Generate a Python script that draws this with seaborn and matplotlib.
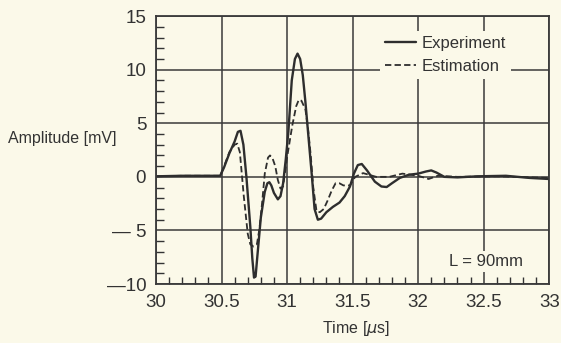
import seaborn as sns
import pandas as pd
import matplotlib.pyplot as plt
from matplotlib.ticker import MultipleLocator

# values
exp_t = [30.0, 30.2, 30.4, 30.49, 30.52, 30.56, 30.6, 30.625, 30.645, 30.667,
         30.69, 30.72, 30.735, 30.748, 30.76, 30.775, 30.8, 30.83, 30.85, 30.865,
         30.88, 30.9, 30.93, 30.95, 30.97, 30.99, 31.01, 31.036, 31.06, 31.08,
         31.1, 31.12, 31.14, 31.16, 31.19, 31.21, 31.235, 31.26, 31.3, 31.35,
         31.4, 31.44, 31.48, 31.51, 31.54, 31.57, 31.61, 31.67, 31.72, 31.76,
         31.8, 31.86, 31.93, 32.0, 32.06, 32.1, 32.14, 32.2, 32.3, 32.45, 32.67,
         32.85, 33.0]
exp_amp = [0.05, 0.1, 0.1, 0.1, 0.9, 2.2, 3.3, 4.2, 4.3, 3.0,
           0.0, -4.7, -7.6, -9.4, -9.3, -7.2, -3.8, -1.4, -0.6, -0.5,
           -0.8, -1.5, -2.1, -1.8, -0.6, 1.6, 4.2, 9.0, 11.0, 11.5,
           11.0, 9.5, 7.0, 4.2, 0.0, -3.0, -4.0, -3.9, -3.3, -2.8,
           -2.4, -1.8, -0.9, 0.3, 1.1, 1.2, 0.6, -0.45, -0.9, -0.95,
           -0.6, -0.1, 0.2, 0.3, 0.5, 0.6, 0.4, 0.0, -0.05, 0.05, 0.1,
           -0.1, -0.2]

est_t = [30.0, 30.2, 30.4, 30.49, 30.52, 30.56, 30.6, 30.62, 30.64, 30.67,
         30.70, 30.72, 30.745, 30.77, 30.79, 30.81, 30.83, 30.855, 30.87, 30.89,
         30.91, 30.93, 30.95, 30.97, 31.0, 31.04, 31.07, 31.09, 31.11, 31.14,
         31.16, 31.18, 31.20, 31.225, 31.25, 31.28, 31.31, 31.34, 31.37, 31.4,
         31.43, 31.48, 31.52, 31.58, 31.68, 31.78, 31.88, 32.0, 32.08, 32.15,
         32.3, 32.6, 33.0]
est_amp = [0.05, 0.1, 0.1, 0.1, 1.0, 2.3, 3.0, 3.1, 2.3, -1.8,
           -5.3, -6.3, -6.5, -6.3, -4.8, -2.4, 0.3, 1.8, 2.0, 1.7,
           1.0, -0.3, -1.1, -0.9, 1.8, 4.8, 6.6, 7.2, 7.1, 6.3,
           4.5, 2.1, -1.0, -3.2, -3.3, -3.0, -2.2, -1.3, -0.6, -0.6,
           -0.8, -0.8, 0.0, 0.35, 0.0, 0.0, 0.3, 0.1, -0.2, 0.1,
           0.0, 0.05, -0.1]

x_ticks = [30, 30.5, 31, 31.5, 32, 32.5, 33]
x_labels = ["30", "30.5", "31", "31.5", "32", "32.5", "33"]
y_ticks = [-10, -5, 0, 5, 10, 15]
y_labels = ["\u201410", "\u2014 5", "0", "5", "10", "15"]

bg = "#fbf9e9"
ink = "#333333"

sns.set_theme(style="white")
plt.rcParams['font.family'] = ['Liberation Sans', 'DejaVu Sans']

df_exp = pd.DataFrame({"t": exp_t, "amp": exp_amp})
df_est = pd.DataFrame({"t": est_t, "amp": est_amp})

fig = plt.figure(figsize=(5.61, 3.43), dpi=100, facecolor=bg)
ax = fig.add_axes([0.278, 0.172, 0.701, 0.781], facecolor=bg)

sns.lineplot(data=df_exp, x="t", y="amp", ax=ax, color="#2e2e2e", lw=1.7,
             sort=False, label="Experiment")
sns.lineplot(data=df_est, x="t", y="amp", ax=ax, color="#2e2e2e", lw=1.3,
             sort=False, label="Estimation", linestyle=(0, (3.5, 1.8)))

ax.set_xlim(30, 33)
ax.set_ylim(-10, 15)
ax.set_xticks(x_ticks)
ax.set_xticklabels(x_labels)
ax.set_yticks(y_ticks)
ax.set_yticklabels(y_labels)
ax.xaxis.set_minor_locator(MultipleLocator(0.1))
ax.yaxis.set_minor_locator(MultipleLocator(1))
ax.tick_params(which="major", length=0, labelsize=13.5, colors=ink, pad=7)
ax.tick_params(axis="x", which="minor", bottom=True, direction="in", length=5,
               width=1, color=ink)
ax.tick_params(axis="y", which="minor", left=True, direction="in", length=6,
               width=1, color=ink)
ax.grid(True, which="major", color="#3a3a3a", lw=1.1)
for s in ax.spines.values():
    s.set_color("#3a3a3a")
    s.set_linewidth(1.3)

ax.set_xlabel("")
ax.set_ylabel("")
fig.text(0.014, 1 - 138 / 343, "Amplitude [mV]", fontsize=11.5, color=ink,
         ha="left", va="center")
fig.text(356 / 561, 1 - 328 / 343, "Time [$\\mu$s]", fontsize=11.5, color=ink,
         ha="center", va="center")

leg = ax.legend(loc="upper right", bbox_to_anchor=(0.925, 0.975), frameon=True,
                facecolor=bg, edgecolor="none", framealpha=1, fontsize=12,
                handlelength=1.9, handletextpad=0.35, labelspacing=0.45,
                borderpad=0.3)
for txt in leg.get_texts():
    txt.set_color(ink)

ax.text(0.84, 0.085, "L = 90mm", transform=ax.transAxes, fontsize=12,
        color=ink, ha="center", va="center",
        bbox=dict(facecolor=bg, edgecolor="none", pad=2))

plt.savefig("out.png", dpi=100, facecolor=bg)
